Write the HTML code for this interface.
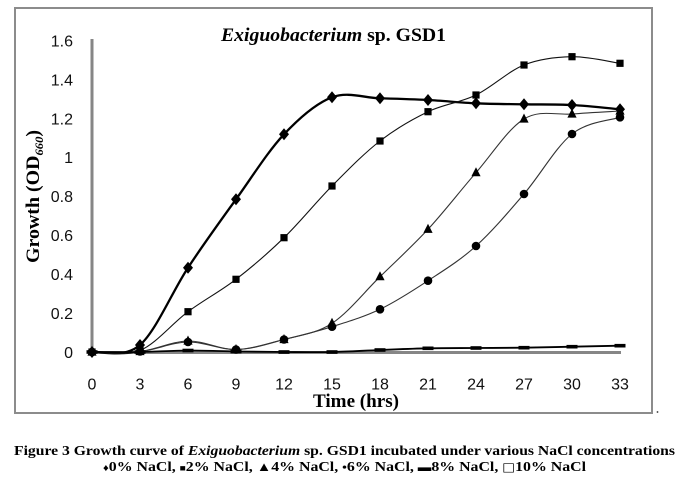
<!DOCTYPE html>
<html><head><meta charset="utf-8">
<style>
html,body{margin:0;padding:0;background:#fff;}
svg{display:block;}
</style></head>
<body>
<svg id="c" width="689" height="491" viewBox="0 0 689 491" xmlns="http://www.w3.org/2000/svg">
<rect x="0" y="0" width="689" height="491" fill="#fff"/>
<rect x="15" y="8" width="637" height="405" fill="none" stroke="#8c8c8c" stroke-width="2"/>
<circle cx="657.5" cy="412" r="0.9" fill="#333"/>

<!-- title -->
<text x="221" y="41" font-family="Liberation Serif, serif" font-weight="bold" font-size="19" textLength="225" lengthAdjust="spacingAndGlyphs" fill="#000"><tspan font-style="italic">Exiguobacterium</tspan> sp. GSD1</text>

<!-- y axis label -->
<text transform="translate(39,263) rotate(-90)" x="0" y="0" font-family="Liberation Serif, serif" font-weight="bold" font-size="19" textLength="133" lengthAdjust="spacingAndGlyphs" fill="#000">Growth (OD<tspan font-size="12" font-style="italic" dy="4">660</tspan><tspan dy="-4">)</tspan></text>

<!-- y tick labels -->
<g font-family="Liberation Sans, sans-serif" font-size="16" fill="#111" text-anchor="end">
<text x="73" y="46.5">1.6</text>
<text x="73" y="85.4">1.4</text>
<text x="73" y="124.3">1.2</text>
<text x="73" y="163.2">1</text>
<text x="73" y="202.1">0.8</text>
<text x="73" y="241">0.6</text>
<text x="73" y="279.9">0.4</text>
<text x="73" y="318.8">0.2</text>
<text x="73" y="357.8">0</text>
</g>

<!-- x tick labels -->
<g font-family="Liberation Sans, sans-serif" font-size="16" fill="#111" text-anchor="middle">
<text x="92" y="389.5">0</text>
<text x="140" y="389.5">3</text>
<text x="188" y="389.5">6</text>
<text x="236" y="389.5">9</text>
<text x="284" y="389.5">12</text>
<text x="332" y="389.5">15</text>
<text x="380" y="389.5">18</text>
<text x="428" y="389.5">21</text>
<text x="476" y="389.5">24</text>
<text x="524" y="389.5">27</text>
<text x="572" y="389.5">30</text>
<text x="620" y="389.5">33</text>
</g>

<text x="313" y="407" font-family="Liberation Serif, serif" font-weight="bold" font-size="19" textLength="86" lengthAdjust="spacingAndGlyphs" fill="#000">Time (hrs)</text>

<!-- axes -->
<line x1="92" y1="39" x2="92" y2="353" stroke="#868686" stroke-width="3"/>
<line x1="91" y1="352.5" x2="621" y2="352.5" stroke="#868686" stroke-width="3"/>

<g id="plot"></g>

<!-- caption -->
<text x="14" y="455" font-family="Liberation Serif, serif" font-weight="bold" font-size="14" textLength="661" lengthAdjust="spacingAndGlyphs" fill="#000">Figure 3 Growth curve of <tspan font-style="italic">Exiguobacterium</tspan> sp. GSD1 incubated under various NaCl concentrations</text>
<text x="103" y="471" font-family="Liberation Serif, DejaVu Sans, serif" font-weight="bold" font-size="14" textLength="483" lengthAdjust="spacingAndGlyphs" fill="#000"><tspan font-size="10">♦</tspan>0% NaCl, <tspan font-size="9">■</tspan>2% NaCl, <tspan font-size="13">▲</tspan>4% NaCl, <tspan font-size="12">•</tspan>6% NaCl, <tspan font-size="12">▬</tspan>8% NaCl, <tspan font-family="DejaVu Sans, sans-serif" font-weight="normal" font-size="12">□</tspan>10% NaCl</text>
</svg>
<script>
(function(){
const ns="http://www.w3.org/2000/svg";
const g=document.getElementById('plot');
function X(i){return 92+i*48;}
function mk(tag,attrs){const e=document.createElementNS(ns,tag);for(const k in attrs)e.setAttribute(k,attrs[k]);g.appendChild(e);return e;}
function path(ys){
  const pts=ys.map((y,i)=>[X(i),y]);
  let d="M"+pts[0][0]+","+pts[0][1];
  for(let i=0;i<pts.length-1;i++){
    const p0=pts[Math.max(i-1,0)],p1=pts[i],p2=pts[i+1],p3=pts[Math.min(i+2,pts.length-1)];
    const c1x=p1[0]+(p2[0]-p0[0])/6,c1y=p1[1]+(p2[1]-p0[1])/6;
    const c2x=p2[0]-(p3[0]-p1[0])/6,c2y=p2[1]-(p3[1]-p1[1])/6;
    d+=" C"+c1x.toFixed(2)+","+c1y.toFixed(2)+" "+c2x.toFixed(2)+","+c2y.toFixed(2)+" "+p2[0]+","+p2[1];
  }
  return d;
}
const D=[352,345,267.7,199.3,134.3,97.3,98.3,100,103.3,104.3,105,109.3];
const S=[352,350.5,311.7,279.3,237.7,186,141,111.7,95,65,56.7,63.3];
const T=[352,351.5,341,349.5,339.5,323.3,276.7,229.3,172.7,119,114,111];
const C=[352,351.5,342,349.5,339.5,326.7,309.3,280.7,246,194,134,117.3];
const E=[352,352,350.5,351.5,352,352,350,348.3,348,347.7,346.7,345.7];

// 0% diamond
mk('path',{d:path(D),fill:'none',stroke:'#000','stroke-width':2.3});
D.forEach((y,i)=>{const x=X(i);mk('polygon',{points:`${x},${y-6} ${x+5},${y} ${x},${y+6} ${x-5},${y}`,fill:'#000'});});
// 2% square
mk('path',{d:path(S),fill:'none',stroke:'#111','stroke-width':1.1});
S.forEach((y,i)=>{const x=X(i);mk('rect',{x:x-3.6,y:y-3.6,width:7.2,height:7.2,fill:'#000'});});
// 4% triangle
mk('path',{d:path(T),fill:'none',stroke:'#333','stroke-width':1.1});
T.forEach((y,i)=>{const x=X(i);mk('polygon',{points:`${x},${y-5.5} ${x+4.6},${y+3.6} ${x-4.6},${y+3.6}`,fill:'#000'});});
// 6% circle
mk('path',{d:path(C),fill:'none',stroke:'#333','stroke-width':1.1});
C.forEach((y,i)=>{const x=X(i);mk('circle',{cx:x,cy:y,r:4.3,fill:'#000'});});
// 8% dash
mk('path',{d:path(E),fill:'none',stroke:'#000','stroke-width':1.8});
E.forEach((y,i)=>{const x=X(i);mk('rect',{x:x-5.5,y:y-1.8,width:11,height:3.6,fill:'#000'});});
})();
</script>
</body></html>
